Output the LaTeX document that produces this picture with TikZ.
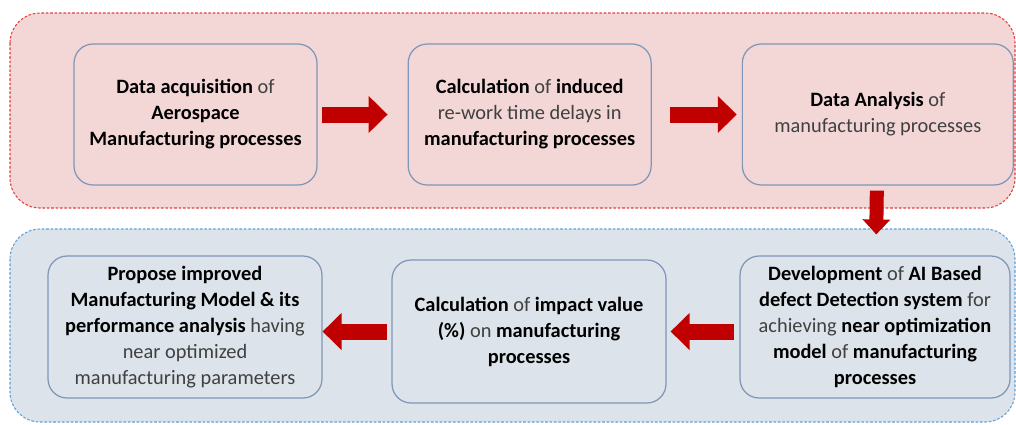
\documentclass[tikz,border=0pt]{standalone}
\usepackage{fontspec}
\setmainfont{Carlito}
\usepackage{tikz}
\usetikzlibrary{arrows.meta,positioning}
\definecolor{redgroup}{RGB}{243,214,214}
\definecolor{redline}{RGB}{226,64,64}
\definecolor{bluegroup}{RGB}{220,227,234}
\definecolor{blueline}{RGB}{95,160,215}
\definecolor{boxline}{RGB}{128,150,182}
\definecolor{arrowred}{RGB}{192,0,0}
\definecolor{plaintext}{RGB}{64,64,64}
\newcommand{\kw}[1]{{\bfseries\color{black}#1}}

\begin{document}
\begin{tikzpicture}[
x=0.02cm, y=-0.02cm,
group/.style={
  dashed,
  dash pattern=on 1.5pt off 1pt,
  line width=0.6pt,
  rounded corners=0.6cm
},
stepbox/.style={
  draw=boxline,
  line width=0.7pt,
  rounded corners=0.38cm,
  align=center,
  text=plaintext,
  minimum height=2.82cm,
  font=\fontsize{11.6}{14.8}\selectfont
},
fatarrow/.style={
  draw=arrowred,
  line width=0.32cm,
  -{Triangle[length=0.38cm,width=0.72cm]}
}
]
\useasboundingbox (0,0) rectangle (1016,424);

% groups
\draw[group,draw=redline,fill=redgroup] (10,13) rectangle (1015,208);
\draw[group,draw=blueline,fill=bluegroup] (10,229) rectangle (1015,422);

% top row
\node[stepbox,minimum width=4.86cm] (acq) at (195.5,114.5)
  {\kw{Data acquisition} of\\ \kw{Aerospace}\\ \kw{Manufacturing processes}};
\node[stepbox,minimum width=4.86cm,right=1.8cm of acq] (delay)
  {\kw{Calculation} of \kw{induced}\\ re-work time delays in\\ \kw{manufacturing processes}};
\node[stepbox,minimum width=5.42cm,right=1.8cm of delay] (analysis)
  {\kw{Data Analysis} of\\ manufacturing processes};

% bottom row
\node[stepbox,minimum width=5.40cm,minimum height=2.84cm] (dev) at (875,327)
  {\kw{Development} of \kw{AI Based}\\ \kw{defect Detection system} for\\ achieving \kw{near optimization}\\ \kw{model} of \kw{manufacturing}\\ \kw{processes}};
\node[stepbox,minimum width=5.48cm,minimum height=2.86cm] (impact) at (529,331.5)
  {\kw{Calculation} of \kw{impact value}\\ \kw{(\%)} on \kw{manufacturing}\\ \kw{processes}};
\node[stepbox,minimum width=5.48cm,minimum height=2.84cm] (model) at (185,327)
  {\kw{Propose improved}\\ \kw{Manufacturing Model \& its}\\ \kw{performance analysis} having\\ near optimized\\ manufacturing parameters};

\draw[fatarrow,shorten <=0.08cm,shorten >=0.4cm] (acq) -- (delay);
\draw[fatarrow,shorten <=0.36cm,shorten >=0.1cm] (delay) -- (analysis);
\draw[fatarrow,line width=0.28cm,-{Triangle[length=0.3cm,width=0.54cm]},
  shorten <=0.1cm,shorten >=0.42cm] (analysis) -- (dev);
\draw[fatarrow,shorten <=0.1cm,shorten >=0.08cm] (dev.west |- impact.east) -- (impact.east);
\draw[fatarrow,shorten <=0.08cm] (impact.west) -- (impact.west -| model.east);
\end{tikzpicture}
\end{document}
